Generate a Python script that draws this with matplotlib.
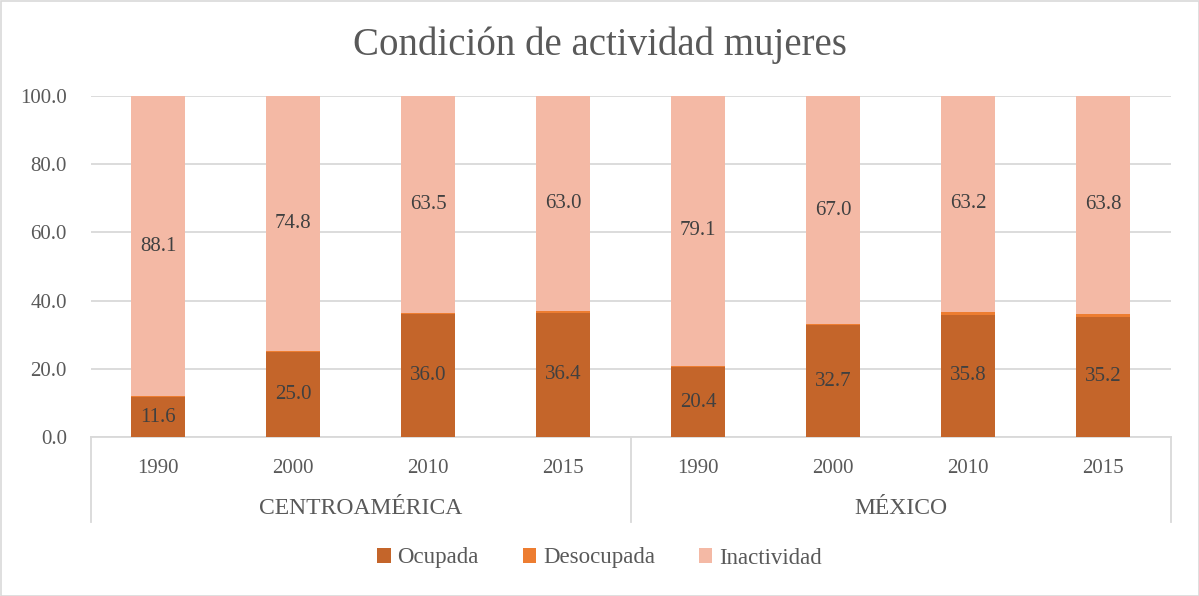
import matplotlib
matplotlib.use("Agg")
import matplotlib.pyplot as plt
from matplotlib.patches import Rectangle
from matplotlib.lines import Line2D

plt.rcParams['font.family'] = ['Liberation Serif', 'DejaVu Serif']

groups = ["CENTROAMÉRICA", "MÉXICO"]
years = ["1990", "2000", "2010", "2015"]
ocupada = [11.6, 25.0, 36.0, 36.4, 20.4, 32.7, 35.8, 35.2]
desocupada = [0.3, 0.2, 0.5, 0.6, 0.5, 0.3, 1.0, 1.0]
inactividad = [88.1, 74.8, 63.5, 63.0, 79.1, 67.0, 63.2, 63.8]

c_ocu = "#C4652A"
c_des = "#ED7D31"
c_ina = "#F4B9A5"
grid_c = "#D9D9D9"
txt_c = "#595959"
lab_c = "#404040"

W, H = 1199, 596
fig = plt.figure(figsize=(W / 100, H / 100), dpi=100)
ax = fig.add_axes([90.5 / W, 1 - 437 / H, (1170.5 - 90.5) / W, (437 - 96) / H])

n = len(ocupada)
x = list(range(n))
labels_x = [years[i % 4] for i in range(n)]
bw = 0.4
b1 = ax.bar(x, ocupada, bw, color=c_ocu, label="Ocupada", zorder=3)
b2 = ax.bar(x, desocupada, bw, bottom=ocupada, color=c_des, label="Desocupada", zorder=3)
bot3 = [o + d for o, d in zip(ocupada, desocupada)]
b3 = ax.bar(x, inactividad, bw, bottom=bot3, color=c_ina, label="Inactividad", zorder=3)

for i in range(n):
    ax.text(x[i], ocupada[i] / 2, f"{ocupada[i]:.1f}", ha="center", va="center",
            fontsize=15, color=lab_c, zorder=4)
    ax.text(x[i], bot3[i] + inactividad[i] / 2, f"{inactividad[i]:.1f}", ha="center",
            va="center", fontsize=15, color=lab_c, zorder=4)

ax.set_xlim(-0.5, n - 0.5)
ax.set_ylim(0, 100)
ax.set_yticks([0, 20, 40, 60, 80, 100])
ax.set_yticklabels([f"{v:.1f}" for v in [0, 20, 40, 60, 80, 100]])
ax.tick_params(axis="y", length=0, labelsize=15, labelcolor=txt_c, pad=17)
ax.yaxis.grid(True, color=grid_c, linewidth=1.3, zorder=0)
ax.set_xticks(x)
ax.set_xticklabels(labels_x)
ax.tick_params(axis="x", length=0, labelsize=15, labelcolor=txt_c, pad=16)
for s in ["top", "right", "left"]:
    ax.spines[s].set_visible(False)
ax.spines["bottom"].set_color(grid_c)
ax.spines["bottom"].set_linewidth(1.3)

# group separators and labels
tr = ax.get_xaxis_transform()
for xs in [-0.5, 3.5, 7.5]:
    ax.add_line(Line2D([xs, xs], [0, -85 / 341], transform=tr, color=grid_c,
                       linewidth=1.3, clip_on=False))
for gi, g in enumerate(groups):
    ax.text(gi * 4 + 1.5, -71 / 341, g, transform=tr, ha="center", va="center",
            fontsize=17, color=txt_c)

fig.text(0.5, 1 - 45 / H, "Condición de actividad mujeres", ha="center", va="center",
         fontsize=28, color=txt_c)

leg = fig.legend(handles=[b1, b2, b3], loc="center", bbox_to_anchor=(0.5, 1 - 558 / H),
                 ncol=3, frameon=False, fontsize=16.5, handlelength=0.6, handleheight=0.6,
                 columnspacing=1.9, handletextpad=0.3)
for t in leg.get_texts():
    t.set_color(txt_c)

fig.patches.append(Rectangle((0.5 / W, 0.5 / H), 1 - 1 / W, 1 - 1 / H, transform=fig.transFigure,
                             fill=False, edgecolor=grid_c, linewidth=1.2))

fig.savefig("out.png", dpi=100, facecolor="white")
